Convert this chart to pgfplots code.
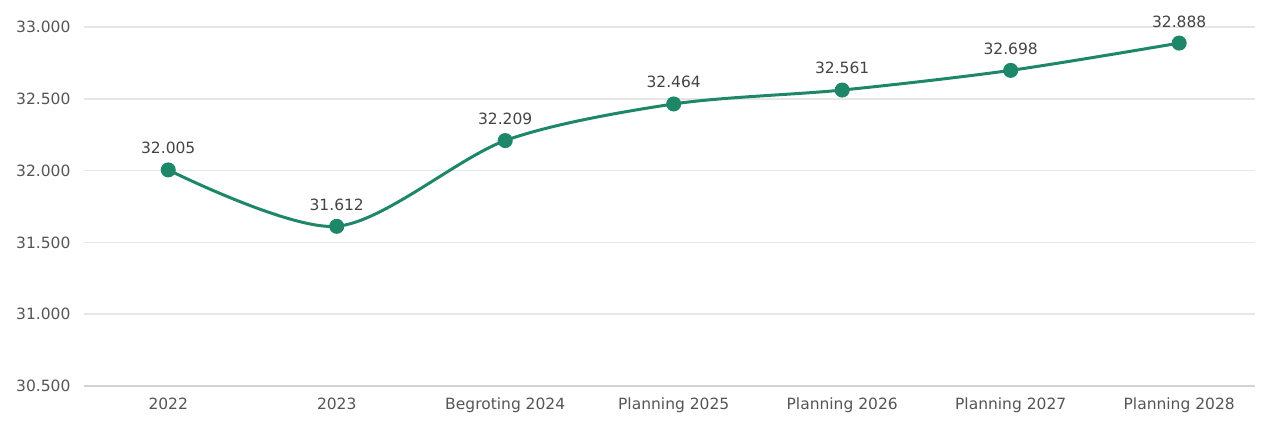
\documentclass[border=0pt]{standalone}
\usepackage{pgfplots}
\pgfplotsset{compat=1.18}
\usepackage{fontspec}
\setmainfont{DejaVu Sans}
\definecolor{lgreen}{RGB}{30,135,105}
\definecolor{tickgray}{RGB}{85,85,85}
\definecolor{labgray}{RGB}{68,68,68}
\definecolor{gridgray}{RGB}{230,230,230}
\definecolor{axgray}{RGB}{210,210,210}
\begin{document}
\begin{tikzpicture}
\useasboundingbox (0,0) rectangle (1262pt,421pt);
\begin{axis}[
  at={(84pt,35pt)}, anchor=south west,
  scale only axis, width=1171pt, height=359pt,
  xmin=-0.5, xmax=6.45, ymin=30500, ymax=33000,
  xtick={0,...,6},
  xticklabels={2022,2023,Begroting 2024,Planning 2025,Planning 2026,Planning 2027,Planning 2028},
  ytick={30500,31000,...,33000},
  scaled y ticks=false,
  /pgf/number format/1000 sep={.},
  /pgf/number format/assume math mode=true,
  yticklabel={\pgfmathprintnumber[fixed,precision=0,1000 sep={.},assume math mode=true]{\tick}},
  ymajorgrids, grid style={gridgray, line width=1.5pt},
  axis x line*=bottom, axis y line*=left,
  x axis line style={axgray, line width=1.5pt, -},
  y axis line style={draw=none},
  major tick length=0pt,
  tick label style={font=\fontsize{15.5}{18}\selectfont, text=tickgray},
  xticklabel style={yshift=-8pt},
  yticklabel style={xshift=-10pt},
  clip=false,
  nodes near coords,
  every node near coord/.append style={font=\fontsize{15.5}{18}\selectfont, text=labgray, yshift=11pt},
]
\addplot[lgreen, line width=3pt, smooth, tension=0.5, mark=*, mark size=6pt, mark options={fill=lgreen, draw=none}]
coordinates {(0,32005) (1,31612) (2,32209) (3,32464) (4,32561) (5,32698) (6,32888)};
\end{axis}
\end{tikzpicture}
\end{document}
